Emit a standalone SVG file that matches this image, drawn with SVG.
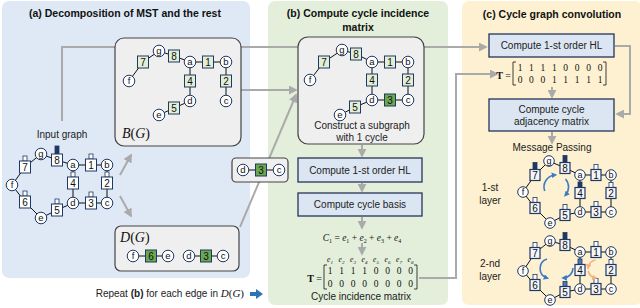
<svg xmlns="http://www.w3.org/2000/svg" width="640" height="308" viewBox="0 0 640 308">
<defs>
<style>
.pa{fill:#dfe9f5}.pb{fill:#e3efda}.pc{fill:#fdf1d1}
.ti{font:bold 10.5px 'Liberation Sans',Arial,sans-serif;fill:#111;text-anchor:middle}
.t{font-family:'Liberation Sans',Arial,sans-serif;font-size:10px;fill:#222;text-anchor:middle}
.tr{font-family:'Liberation Sans',Arial,sans-serif;font-size:10px;fill:#222;text-anchor:end}
.m{font-family:'Liberation Serif','Times New Roman',serif;fill:#111}
.cn{fill:#fff;stroke:#1f3864;stroke-width:1}
.bw{fill:#fff;stroke:#1f3864;stroke-width:1}
.bm{fill:#f3f5fa;stroke:#1f3864;stroke-width:1.2}
.bg{fill:#e3efd5;stroke:#1f3864;stroke-width:1}
.bd{fill:#6aa84f;stroke:#1f3864;stroke-width:1}
.tab{fill:#fff;stroke:#1f3864;stroke-width:0.8}
.tabd{fill:#1f3864;stroke:#1f3864;stroke-width:0.8}
.tabb{fill:#4a78b8;stroke:#1f3864;stroke-width:0.8}
.nl{font-family:'Liberation Sans',Arial,sans-serif;font-size:9.5px;fill:#111;text-anchor:middle}
.nd{font-family:'Liberation Sans',Arial,sans-serif;font-size:10px;fill:#111;text-anchor:middle}
.ns{font-family:'Liberation Sans',Arial,sans-serif;font-size:9px;fill:#111;text-anchor:middle}
.e{stroke:#111;stroke-width:1;fill:none}
.gl{stroke:#aaa;stroke-width:2;fill:none}
.step{fill:#dce6f2;stroke:#24345a;stroke-width:1.3}
.sub{fill:#efefef;stroke:#444;stroke-width:1.2}
.ba{stroke:#3a7bc8;stroke-width:1.6;fill:none}
.oa{stroke:#f4b183;stroke-width:1.6;fill:none}
</style>
<marker id="ag" viewBox="0 0 10 10" refX="8" refY="5" markerWidth="4.5" markerHeight="4.5" orient="auto" markerUnits="strokeWidth"><path d="M0,0L10,5L0,10z" fill="#aaa"/></marker>
<marker id="ab" viewBox="0 0 10 10" refX="6" refY="5" markerWidth="3.5" markerHeight="3.5" orient="auto" markerUnits="strokeWidth"><path d="M0,0L10,5L0,10z" fill="#3a7bc8"/></marker>
<marker id="ao" viewBox="0 0 10 10" refX="6" refY="5" markerWidth="3.5" markerHeight="3.5" orient="auto" markerUnits="strokeWidth"><path d="M0,0L10,5L0,10z" fill="#f4b183"/></marker>
</defs>

<g id="panels">
<rect class="pa" x="2" y="1" width="248" height="277" rx="7"/>
<rect class="pb" x="268" y="1" width="180" height="304" rx="7"/>
<rect class="pc" x="462" y="1" width="180" height="304" rx="7"/>
<text class="ti" x="125" y="17">(a) Decomposition of MST and the rest</text>
<text class="ti" x="358" y="17">(b) Compute cycle incidence</text>
<text class="ti" x="358" y="31">matrix</text>
<text class="ti" x="552" y="18">(c) Cycle graph convolution</text>
</g>

<g id="connectors">
<path class="gl" d="M62,121V47H486" marker-end="url(#ag)"/>
<path class="gl" d="M241,90H296" marker-end="url(#ag)"/>
<path class="gl" d="M240,227L296,95" marker-end="url(#ag)"/>
<path class="gl" d="M120,175L131,155" marker-end="url(#ag)"/>
<path class="gl" d="M120,196L131,216" marker-end="url(#ag)"/>
<path class="gl" d="M362,145V156" marker-end="url(#ag)"/>
<path class="gl" d="M362,183V191" marker-end="url(#ag)"/>
<path class="gl" d="M362,217V228" marker-end="url(#ag)"/>
<path class="gl" d="M362,243V254" marker-end="url(#ag)"/>
<path class="gl" d="M419,278H456V74H497" marker-end="url(#ag)"/>
<path class="gl" d="M552,87V97" marker-end="url(#ag)"/>
<path class="gl" d="M552,132V143" marker-end="url(#ag)"/>
<path class="gl" d="M615,46H630V114H617" marker-end="url(#ag)"/>
</g>

<g id="containers">
<rect id="box-B" class="sub" x="115" y="38" width="126" height="108" rx="9"/>
<rect id="box-D" class="sub" x="115" y="226" width="124" height="45" rx="6"/>
<rect id="box-d3c" class="sub" x="232" y="158" width="56" height="24" rx="4"/>
<rect id="box-sub" class="sub" x="298" y="37" width="126" height="107" rx="10"/>
</g>

<g id="edges">
<path class="e" d="M12,185L25,167L41,154L57,160L73,165L91,165L107,165L107,183L107,203L91,203L73,203L73,183L73,165M73,203L57,210L41,218L25,202L12,185"/>
<path class="e" d="M129,81L143,62L159,51L174,56L190,62L208,62L226,62L226,81L226,101M190,62L190,81L190,101L174,108L159,115"/>
<path class="e" d="M310,80L324,62L342,50L356,54L372,62L390,62L408,62L408,80L408,100L390,100L372,100L372,80L372,62M372,100L355,107L340,115"/>
<path class="e" d="M133,256H168M189,256H223M243,170H279"/>
<path class="e" d="M523,192L535,175L549,161L565,168L580,175L596,175L611,175L611,193L611,212L596,212L580,212L580,193L580,175M580,212L565,215L550,223L535,208L523,192"/>
<path class="e" d="M523,271L535,253L550,241L565,245L580,252L596,252L611,252L611,270L611,289L596,289L580,289L580,270L580,252M580,289L565,292L550,300L535,285L523,271"/>
</g>

<g id="input-graph">
<g id="in-f"><circle class="cn" cx="12" cy="185" r="5.8"/><text class="nl" x="12" y="187.8">f</text></g>
<g id="in-7"><rect class="tab" x="23" y="156" width="4" height="5"/><rect class="bw" x="19.5" y="161" width="11" height="12"/><text class="nd" x="25" y="170.6">7</text></g>
<g id="in-g"><circle class="cn" cx="41" cy="154" r="5.8"/><text class="nl" x="41" y="156.8">g</text></g>
<g id="in-8"><rect class="tabd" x="55" y="146" width="4" height="8"/><rect class="bw" x="51.5" y="154" width="11" height="12"/><text class="nd" x="57" y="163.6">8</text></g>
<g id="in-a"><circle class="cn" cx="73" cy="165" r="5.8"/><text class="nl" x="73" y="167.8">a</text></g>
<g id="in-1"><rect class="tab" x="89" y="154" width="4" height="5"/><rect class="bw" x="85.5" y="159" width="11" height="12"/><text class="nd" x="91" y="168.6">1</text></g>
<g id="in-b"><circle class="cn" cx="107" cy="165" r="5.8"/><text class="nl" x="107" y="167.8">b</text></g>
<g id="in-4"><rect class="tab" x="71" y="172" width="4" height="5"/><rect class="bw" x="67.5" y="177" width="11" height="12"/><text class="nd" x="73" y="186.6">4</text></g>
<g id="in-2"><rect class="tab" x="105" y="172" width="4" height="5"/><rect class="bw" x="101.5" y="177" width="11" height="12"/><text class="nd" x="107" y="186.6">2</text></g>
<g id="in-6"><rect class="tab" x="23" y="191" width="4" height="5"/><rect class="bw" x="19.5" y="196" width="11" height="12"/><text class="nd" x="25" y="205.6">6</text></g>
<g id="in-d"><circle class="cn" cx="73" cy="203" r="5.8"/><text class="nl" x="73" y="205.8">d</text></g>
<g id="in-3"><rect class="tab" x="89" y="192" width="4" height="5"/><rect class="bw" x="85.5" y="197" width="11" height="12"/><text class="nd" x="91" y="206.6">3</text></g>
<g id="in-c"><circle class="cn" cx="107" cy="203" r="5.8"/><text class="nl" x="107" y="205.8">c</text></g>
<g id="in-5"><rect class="tab" x="55" y="199" width="4" height="5"/><rect class="bw" x="51.5" y="204" width="11" height="12"/><text class="nd" x="57" y="213.6">5</text></g>
<g id="in-e"><circle class="cn" cx="41" cy="218" r="5.8"/><text class="nl" x="41" y="220.8">e</text></g>
<text class="t" x="62" y="138">Input graph</text>
</g>

<g id="B-graph">
<g id="bg-f"><circle class="cn" cx="129" cy="81" r="5.8"/><text class="nl" x="129" y="83.8">f</text></g>
<g id="bg-7"><rect class="bg" x="137.5" y="56" width="11" height="12"/><text class="nd" x="143" y="65.6">7</text></g>
<g id="bg-g"><circle class="cn" cx="159" cy="51" r="5.8"/><text class="nl" x="159" y="53.8">g</text></g>
<g id="bg-8"><rect class="bg" x="168.5" y="50" width="11" height="12"/><text class="nd" x="174" y="59.6">8</text></g>
<g id="bg-a"><circle class="cn" cx="190" cy="62" r="5.8"/><text class="nl" x="190" y="64.8">a</text></g>
<g id="bg-1"><rect class="bg" x="202.5" y="56" width="11" height="12"/><text class="nd" x="208" y="65.6">1</text></g>
<g id="bg-b"><circle class="cn" cx="226" cy="62" r="5.8"/><text class="nl" x="226" y="64.8">b</text></g>
<g id="bg-4"><rect class="bg" x="184.5" y="75" width="11" height="12"/><text class="nd" x="190" y="84.6">4</text></g>
<g id="bg-2"><rect class="bg" x="220.5" y="75" width="11" height="12"/><text class="nd" x="226" y="84.6">2</text></g>
<g id="bg-d"><circle class="cn" cx="190" cy="101" r="5.8"/><text class="nl" x="190" y="103.8">d</text></g>
<g id="bg-c"><circle class="cn" cx="226" cy="101" r="5.8"/><text class="nl" x="226" y="103.8">c</text></g>
<g id="bg-5"><rect class="bg" x="168.5" y="102" width="11" height="12"/><text class="nd" x="174" y="111.6">5</text></g>
<g id="bg-e"><circle class="cn" cx="159" cy="115" r="5.8"/><text class="nl" x="159" y="117.8">e</text></g>
<text class="m" x="122" y="138" font-size="14" font-style="italic">B<tspan font-style="normal">(</tspan>G<tspan font-style="normal">)</tspan></text>
</g>

<g id="D-graph">
<text class="m" x="120" y="242" font-size="14" font-style="italic">D<tspan font-style="normal">(</tspan>G<tspan font-style="normal">)</tspan></text>
<g id="dg-f"><circle class="cn" cx="133" cy="256" r="5.8"/><text class="nl" x="133" y="258.8">f</text></g>
<g id="dg-6"><rect class="bd" x="145.5" y="250" width="11" height="12"/><text class="nd" x="151" y="259.6">6</text></g>
<g id="dg-e"><circle class="cn" cx="168" cy="256" r="5.8"/><text class="nl" x="168" y="258.8">e</text></g>
<g id="dg-d"><circle class="cn" cx="189" cy="256" r="5.8"/><text class="nl" x="189" y="258.8">d</text></g>
<g id="dg-3"><rect class="bd" x="200.5" y="250" width="11" height="12"/><text class="nd" x="206" y="259.6">3</text></g>
<g id="dg-c"><circle class="cn" cx="223" cy="256" r="5.8"/><text class="nl" x="223" y="258.8">c</text></g>
</g>

<g id="edge-d3c">
<g id="x-d"><circle class="cn" cx="243" cy="170" r="5.8"/><text class="nl" x="243" y="172.8">d</text></g>
<g id="x-3"><rect class="bd" x="255.5" y="164" width="11" height="12"/><text class="nd" x="261" y="173.6">3</text></g>
<g id="x-c"><circle class="cn" cx="279" cy="170" r="5.8"/><text class="nl" x="279" y="172.8">c</text></g>
</g>

<g id="repeat-note">
<text class="tr" x="244" y="297">Repeat <tspan font-weight="bold">(b)</tspan> for each edge in <tspan class="m" font-style="italic" font-size="11">D</tspan><tspan class="m" font-size="11">(</tspan><tspan class="m" font-style="italic" font-size="11">G</tspan><tspan class="m" font-size="11">)</tspan></text>
<polygon points="250,292 256,292 256,289 263,294 256,299 256,296 250,296" fill="#2e75b6"/>
</g>

<g id="sub-graph">
<g id="sb-f"><circle class="cn" cx="310" cy="80" r="5.8"/><text class="nl" x="310" y="82.8">f</text></g>
<g id="sb-7"><rect class="bg" x="318.5" y="56" width="11" height="12"/><text class="nd" x="324" y="65.6">7</text></g>
<g id="sb-g"><circle class="cn" cx="342" cy="50" r="5.8"/><text class="nl" x="342" y="52.8">g</text></g>
<g id="sb-8"><rect class="bg" x="350.5" y="48" width="11" height="12"/><text class="nd" x="356" y="57.6">8</text></g>
<g id="sb-a"><circle class="cn" cx="372" cy="62" r="5.8"/><text class="nl" x="372" y="64.8">a</text></g>
<g id="sb-1"><rect class="bg" x="384.5" y="56" width="11" height="12"/><text class="nd" x="390" y="65.6">1</text></g>
<g id="sb-b"><circle class="cn" cx="408" cy="62" r="5.8"/><text class="nl" x="408" y="64.8">b</text></g>
<g id="sb-4"><rect class="bg" x="366.5" y="74" width="11" height="12"/><text class="nd" x="372" y="83.6">4</text></g>
<g id="sb-2"><rect class="bg" x="402.5" y="74" width="11" height="12"/><text class="nd" x="408" y="83.6">2</text></g>
<g id="sb-d"><circle class="cn" cx="372" cy="100" r="5.8"/><text class="nl" x="372" y="102.8">d</text></g>
<g id="sb-3"><rect class="bd" x="384.5" y="94" width="11" height="12"/><text class="nd" x="390" y="103.6">3</text></g>
<g id="sb-c"><circle class="cn" cx="408" cy="100" r="5.8"/><text class="nl" x="408" y="102.8">c</text></g>
<g id="sb-5"><rect class="bg" x="349.5" y="101" width="11" height="12"/><text class="nd" x="355" y="110.6">5</text></g>
<g id="sb-e"><circle class="cn" cx="340" cy="115" r="5.8"/><text class="nl" x="340" y="117.8">e</text></g>
<text class="t" x="362" y="129">Construct a subgraph</text>
<text class="t" x="362" y="141">with 1 cycle</text>
</g>

<g id="step-hl-b"><rect class="step" x="298" y="158" width="124" height="24"/><text class="t" x="360" y="173.5">Compute 1-st order HL</text></g>
<g id="step-basis"><rect class="step" x="298" y="193" width="124" height="23"/><text class="t" x="360" y="208">Compute cycle basis</text></g>

<g id="cycle-eq">
<text class="m" x="362" y="241" font-size="9.5" text-anchor="middle"><tspan font-style="italic">C</tspan><tspan font-size="6" dy="2">1</tspan><tspan dy="-2"> = </tspan><tspan font-style="italic">e</tspan><tspan font-size="6" dy="2">1</tspan><tspan dy="-2"> + </tspan><tspan font-style="italic">e</tspan><tspan font-size="6" dy="2">2</tspan><tspan dy="-2"> + </tspan><tspan font-style="italic">e</tspan><tspan font-size="6" dy="2">3</tspan><tspan dy="-2"> + </tspan><tspan font-style="italic">e</tspan><tspan font-size="6" dy="2">4</tspan></text>
</g>

<g id="matrix-b">
<g class="m" font-size="7.5" font-style="italic" text-anchor="middle">
<text x="330" y="262">e<tspan font-size="5" dy="1.5">1</tspan></text>
<text x="341.5" y="262">e<tspan font-size="5" dy="1.5">2</tspan></text>
<text x="353" y="262">e<tspan font-size="5" dy="1.5">3</tspan></text>
<text x="364.5" y="262">e<tspan font-size="5" dy="1.5">4</tspan></text>
<text x="376" y="262">e<tspan font-size="5" dy="1.5">5</tspan></text>
<text x="387.5" y="262">e<tspan font-size="5" dy="1.5">6</tspan></text>
<text x="399" y="262">e<tspan font-size="5" dy="1.5">7</tspan></text>
<text x="410.5" y="262">e<tspan font-size="5" dy="1.5">8</tspan></text>
</g>
<text class="m" x="322" y="282" font-size="10" font-weight="bold" text-anchor="end">T<tspan font-weight="normal"> =</tspan></text>
<path d="M327,265H324V289H327M414,265H417V289H414" fill="none" stroke="#111" stroke-width="0.8"/>
<text class="m" font-size="9.5" text-anchor="middle" x="330 341.5 353 364.5 376 387.5 399 410.5" y="274">11110000</text>
<text class="m" font-size="9.5" text-anchor="middle" x="330 341.5 353 364.5 376 387.5 399 410.5" y="286.5">00000000</text>
<text class="t" x="361" y="300">Cycle incidence matrix</text>
</g>

<g id="step-hl-c"><rect class="step" x="489" y="34" width="125" height="23"/><text class="t" x="551.5" y="49">Compute 1-st order HL</text></g>

<g id="matrix-c">
<text class="m" x="511" y="79" font-size="10" font-weight="bold" text-anchor="end">T<tspan font-weight="normal"> =</tspan></text>
<path d="M516,62H513V85H516M603,62H606V85H603" fill="none" stroke="#111" stroke-width="0.8"/>
<text class="m" font-size="9.5" text-anchor="middle" x="520 531.4 542.9 554.3 565.7 577.1 588.6 600" y="70.5">11110000</text>
<text class="m" font-size="9.5" text-anchor="middle" x="520 531.4 542.9 554.3 565.7 577.1 588.6 600" y="83">00011111</text>
</g>

<g id="step-adj"><rect class="step" x="489" y="99" width="125" height="32"/><text class="t" x="551.5" y="112.5">Compute cycle</text><text class="t" x="551.5" y="125">adjacency matrix</text></g>

<text class="t" x="552" y="151">Message Passing</text>
<text class="t" x="490" y="190.5">1-st</text>
<text class="t" x="490" y="204">layer</text>
<text class="t" x="490" y="266.5">2-nd</text>
<text class="t" x="490" y="279.5">layer</text>

<g id="layer1">
<g id="m1-f"><circle class="cn" cx="523" cy="192" r="5.3"/><text class="ns" x="523" y="194.7">f</text></g>
<g id="m1-7"><rect class="tabd" x="533" y="162.5" width="4" height="7"/><rect class="bm" x="530" y="169.5" width="10" height="11"/><text class="nd" x="535" y="178.6">7</text></g>
<g id="m1-g"><circle class="cn" cx="549" cy="161" r="5.3"/><text class="ns" x="549" y="163.7">g</text></g>
<g id="m1-8"><rect class="tabd" x="563" y="155.5" width="4" height="7"/><rect class="bm" x="560" y="162.5" width="10" height="11"/><text class="nd" x="565" y="171.6">8</text></g>
<g id="m1-a"><circle class="cn" cx="580" cy="175" r="5.3"/><text class="ns" x="580" y="177.7">a</text></g>
<g id="m1-1"><rect class="tab" x="594" y="164.5" width="4" height="5"/><rect class="bm" x="591" y="169.5" width="10" height="11"/><text class="nd" x="596" y="178.6">1</text></g>
<g id="m1-b"><circle class="cn" cx="611" cy="175" r="5.3"/><text class="ns" x="611" y="177.7">b</text></g>
<g id="m1-4"><rect class="tabd" x="578" y="182" width="4" height="5.5"/><rect class="bm" x="575" y="187.5" width="10" height="11"/><text class="nd" x="580" y="196.6">4</text></g>
<g id="m1-2"><rect class="tab" x="609" y="182.5" width="4" height="5"/><rect class="bm" x="606" y="187.5" width="10" height="11"/><text class="nd" x="611" y="196.6">2</text></g>
<g id="m1-6"><rect class="tab" x="533" y="197.5" width="4" height="5"/><rect class="bm" x="530" y="202.5" width="10" height="11"/><text class="nd" x="535" y="211.6">6</text></g>
<g id="m1-d"><circle class="cn" cx="580" cy="212" r="5.3"/><text class="ns" x="580" y="214.7">d</text></g>
<g id="m1-3"><rect class="tab" x="594" y="201.5" width="4" height="5"/><rect class="bm" x="591" y="206.5" width="10" height="11"/><text class="nd" x="596" y="215.6">3</text></g>
<g id="m1-c"><circle class="cn" cx="611" cy="212" r="5.3"/><text class="ns" x="611" y="214.7">c</text></g>
<g id="m1-5"><rect class="tab" x="563" y="204.5" width="4" height="5"/><rect class="bm" x="560" y="209.5" width="10" height="11"/><text class="nd" x="565" y="218.6">5</text></g>
<g id="m1-e"><circle class="cn" cx="550" cy="223" r="5.3"/><text class="ns" x="550" y="225.7">e</text></g>
<path class="ba" d="M544.7,191 A12,12 0 0 1 555,175" marker-end="url(#ab)"/>
<path class="ba" d="M565.5,179 A12,12 0 0 1 565.5,195" marker-end="url(#ab)"/>
</g>

<g id="layer2">
<g id="m2-f"><circle class="cn" cx="523" cy="271" r="5.3"/><text class="ns" x="523" y="273.7">f</text></g>
<g id="m2-7"><rect class="tab" x="533" y="242.5" width="4" height="5"/><rect class="bm" x="530" y="247.5" width="10" height="11"/><text class="nd" x="535" y="256.6">7</text></g>
<g id="m2-g"><circle class="cn" cx="550" cy="241" r="5.3"/><text class="ns" x="550" y="243.7">g</text></g>
<g id="m2-8"><rect class="tabd" x="563" y="232.5" width="4" height="7"/><rect class="bm" x="560" y="239.5" width="10" height="11"/><text class="nd" x="565" y="248.6">8</text></g>
<g id="m2-a"><circle class="cn" cx="580" cy="252" r="5.3"/><text class="ns" x="580" y="254.7">a</text></g>
<g id="m2-1"><rect class="tab" x="594" y="241.5" width="4" height="5"/><rect class="bm" x="591" y="246.5" width="10" height="11"/><text class="nd" x="596" y="255.6">1</text></g>
<g id="m2-b"><circle class="cn" cx="611" cy="252" r="5.3"/><text class="ns" x="611" y="254.7">b</text></g>
<g id="m2-4"><rect class="tabb" x="578" y="259" width="4" height="5.5"/><rect class="bm" x="575" y="264.5" width="10" height="11"/><text class="nd" x="580" y="273.6">4</text></g>
<g id="m2-2"><rect class="tab" x="609" y="259.5" width="4" height="5"/><rect class="bm" x="606" y="264.5" width="10" height="11"/><text class="nd" x="611" y="273.6">2</text></g>
<g id="m2-6"><rect class="tab" x="533" y="274.5" width="4" height="5"/><rect class="bm" x="530" y="279.5" width="10" height="11"/><text class="nd" x="535" y="288.6">6</text></g>
<g id="m2-d"><circle class="cn" cx="580" cy="289" r="5.3"/><text class="ns" x="580" y="291.7">d</text></g>
<g id="m2-3"><rect class="tab" x="594" y="278.5" width="4" height="5"/><rect class="bm" x="591" y="283.5" width="10" height="11"/><text class="nd" x="596" y="292.6">3</text></g>
<g id="m2-c"><circle class="cn" cx="611" cy="289" r="5.3"/><text class="ns" x="611" y="291.7">c</text></g>
<g id="m2-5"><rect class="tabb" x="563" y="281.5" width="4" height="5"/><rect class="bm" x="560" y="286.5" width="10" height="11"/><text class="nd" x="565" y="295.6">5</text></g>
<g id="m2-e"><circle class="cn" cx="550" cy="300" r="5.3"/><text class="ns" x="550" y="302.7">e</text></g>
<path class="ba" d="M547,259 A10,10 0 0 0 547,278" marker-end="url(#ab)"/>
<path class="ba" d="M573,268 A10,10 0 0 1 563.5,278" marker-end="url(#ab)"/>
<path class="oa" d="M595.5,260 A9,9 0 0 0 588.2,267.5" marker-end="url(#ao)"/>
<path class="oa" d="M588.2,271 A9,9 0 0 0 595.5,278" marker-end="url(#ao)"/>
</g>
</svg>
